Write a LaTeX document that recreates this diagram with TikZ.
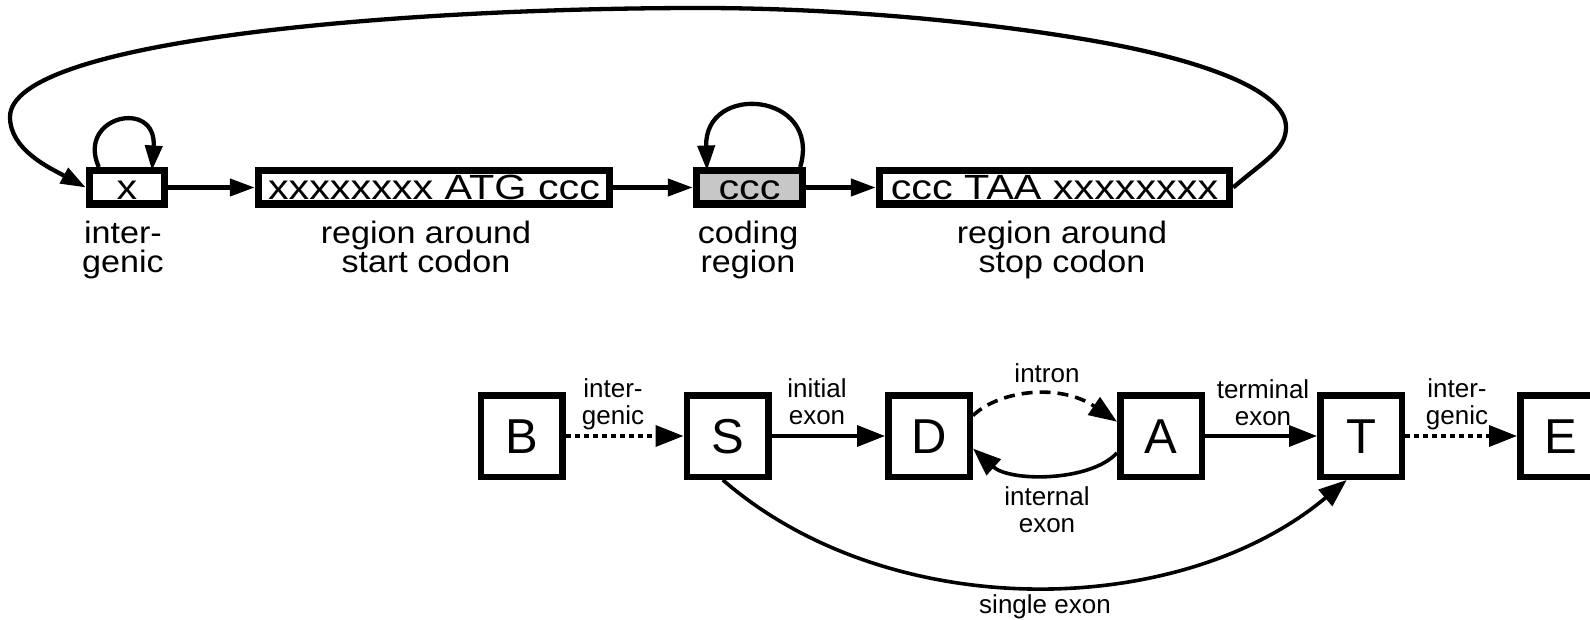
\documentclass[tikz,border=0pt]{standalone}
\usepackage{fontspec}
\setmainfont{Liberation Sans}
\newfontfamily\boxfont[FakeStretch=1.18]{Liberation Sans}
\newfontfamily\capfont[FakeStretch=1.1]{Liberation Sans}
\usetikzlibrary{arrows.meta}
% let stacked caption lines keep their fixed baseline distance
\newcommand\tightlines{\lineskiplimit=-30pt\relax}

\begin{document}
\begin{tikzpicture}[x=1pt,y=-1pt,
  seqbox/.style={draw, line width=7.5pt, inner sep=0pt, minimum height=33.5pt,
    text height=25pt, text depth=0pt, font=\boxfont\fontsize{35}{35}\selectfont},
  statebox/.style={draw, line width=6.5pt, inner sep=0pt, minimum width=81.5pt,
    minimum height=81.5pt, text height=35pt, text depth=0pt,
    font=\fontsize{49}{49}\selectfont},
  caption/.style={align=center, anchor=base, inner sep=0pt,
    font=\capfont\fontsize{31}{29.5}\selectfont\tightlines},
  edgetext/.style={align=center, anchor=base, inner sep=0pt,
    font=\fontsize{26}{27}\selectfont\tightlines},
  toparrow/.style={line width=4.3pt, -{Triangle[length=25pt,width=17pt]}},
  botarrow/.style={line width=3.6pt, -{Triangle[length=28pt,width=21pt]}},
  dotline/.style={dash pattern=on 5pt off 4pt},
  dashline/.style={dash pattern=on 11pt off 7pt},
]
\useasboundingbox (0,0) rectangle (1590,620);
\clip (0,0) rectangle (1590,620);

% ---- upper model: sequence regions ----
\node[seqbox, minimum width=75pt]  (xbox)     at (127,187.5)   {x};
\node[seqbox, minimum width=351pt] (startbox) at (434,187.5)   {xxxxxxxx ATG ccc};
\node[seqbox, minimum width=106pt, fill=black!22] (cccbox) at (749.5,187.5) {ccc};
\node[seqbox, minimum width=350pt] (stopbox)  at (1054.5,187.5) {ccc TAA xxxxxxxx};

% captions (anchored at the baseline of their last line)
\node[caption] (capx)     at (123,273)  {inter-\\genic};
\node[caption] (capstart) at (426,273)  {region around\\start codon};
\node[caption] (capccc)   at (748,273)  {coding\\region};
\node[caption] (capstop)  at (1062,273) {region around\\stop codon};

\draw[toparrow] (xbox) -- (startbox);
\draw[toparrow] (startbox) -- (cccbox);
\draw[toparrow] (cccbox) -- (stopbox);

% self loops
\draw[toparrow] (xbox.north west) ++(13,0) coordinate (xl0)
  .. controls (76,116) and (157,98) .. (152,170.5);
\draw[toparrow] (cccbox.north east) ++(-6,0) coordinate (cl0)
  .. controls (822,92) and (704,82) .. (707,170.5);

% return from the stop region to the intergenic state
\draw[toparrow] (stopbox.east)
  .. controls (1265,160) and (1286,150) .. (1286,127)
  .. controls (1286,90) and (1200,60) .. (1100,42)
  .. controls (1000,24) and (850,8) .. (700,8)
  .. controls (400,8) and (10,40) .. (10,117)
  .. controls (10,150) and (50,168) .. (xbox.west);

% ---- lower model: gene structure states ----
\node[statebox] (B) at (521.5,436) {B};
\node[statebox] (S) at (727.5,436) {S};
\node[statebox] (D) at (929,436)   {D};
\node[statebox] (A) at (1161,436)  {A};
\node[statebox] (T) at (1361,436)  {T};
\node[statebox] (E) at (1561,436)  {E};

\draw[botarrow, dotline] (B) -- (S);
\draw[botarrow] (S) -- (D);
\draw[botarrow, dashline] (D.25) .. controls (1000,390) and (1060,383) .. (A.162);
\draw[botarrow] (A.201) .. controls (1090,482) and (1010,482) .. (D.344);
\draw[botarrow] (A) -- (T);
\draw[botarrow, dotline] (T) -- (E);
\draw[botarrow] (S.264) .. controls (890,625) and (1180,620) .. (T.252);

\node[edgetext] (lbs) at (613,424)  {inter-\\genic};
\node[edgetext] (lsd) at (817,424)  {initial\\exon};
\node[edgetext] (lda) at (1047,382) {intron};
\node[edgetext] (lad) at (1047,532) {internal\\exon};
\node[edgetext] (lat) at (1263,425) {terminal\\exon};
\node[edgetext] (lte) at (1457,424) {inter-\\genic};
\node[edgetext] (lst) at (1045,613) {single exon};
\end{tikzpicture}
\end{document}
